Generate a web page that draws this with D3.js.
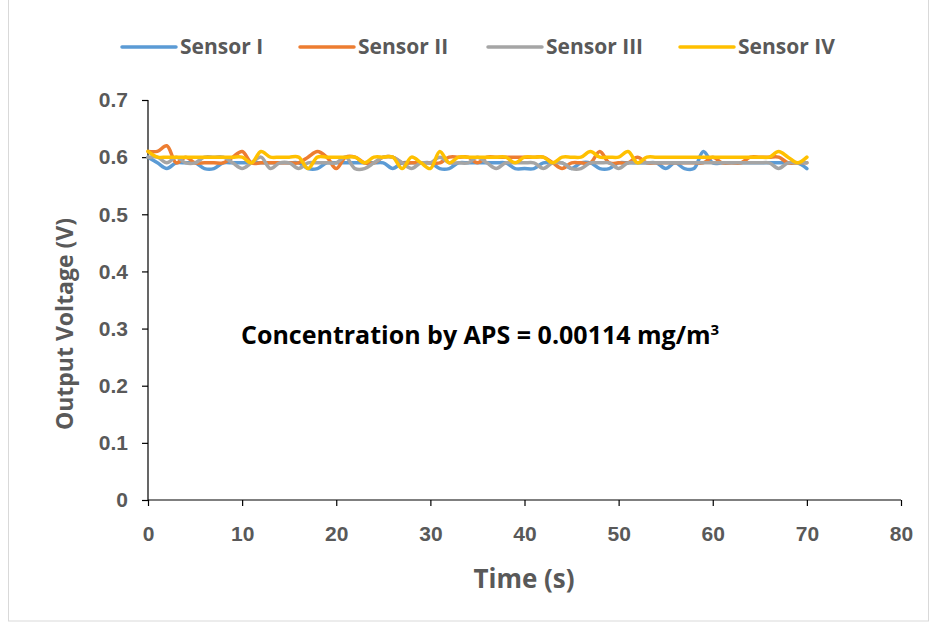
<!DOCTYPE html>
<html>
<head>
<meta charset="utf-8">
<script src="https://cdn.jsdelivr.net/npm/d3@7"></script>
<style>
  body { margin: 0; background: #fff; }
  svg { display: block; font-family: "Open Sans", Lato, sans-serif; font-weight: bold; }
</style>
</head>
<body>
<div id="app"></div>
<script>
const seriesNames = ['Sensor I', 'Sensor II', 'Sensor III', 'Sensor IV'];
const seriesColors = ['#5B9BD5', '#ED7D31', '#A5A5A5', '#FFC000'];

const time = d3.range(0, 71);

const sensor1 = [
  0.60, 0.59, 0.58, 0.59, 0.59, 0.59, 0.58, 0.58, 0.59, 0.59, 0.59,
  0.59, 0.59, 0.59, 0.59, 0.59, 0.59, 0.58, 0.58, 0.59, 0.59,
  0.59, 0.59, 0.59, 0.59, 0.59, 0.58, 0.59, 0.59, 0.59, 0.59,
  0.58, 0.58, 0.59, 0.59, 0.59, 0.59, 0.59, 0.59, 0.58, 0.58,
  0.58, 0.59, 0.59, 0.59, 0.58, 0.59, 0.59, 0.58, 0.58, 0.59,
  0.59, 0.59, 0.59, 0.59, 0.58, 0.59, 0.58, 0.58, 0.61, 0.59,
  0.59, 0.59, 0.59, 0.59, 0.59, 0.59, 0.59, 0.59, 0.59, 0.58
];
const sensor2 = [
  0.61, 0.61, 0.62, 0.59, 0.60, 0.59, 0.59, 0.59, 0.59, 0.60, 0.61,
  0.59, 0.59, 0.59, 0.59, 0.59, 0.59, 0.60, 0.61, 0.60, 0.58,
  0.60, 0.60, 0.59, 0.59, 0.60, 0.60, 0.59, 0.59, 0.59, 0.59,
  0.59, 0.60, 0.60, 0.60, 0.59, 0.60, 0.60, 0.60, 0.60, 0.60,
  0.60, 0.60, 0.59, 0.58, 0.59, 0.59, 0.59, 0.61, 0.59, 0.59,
  0.59, 0.60, 0.59, 0.59, 0.59, 0.59, 0.59, 0.59, 0.59, 0.60,
  0.59, 0.59, 0.59, 0.60, 0.60, 0.60, 0.60, 0.59, 0.59, 0.59
];
const sensor3 = [
  0.60, 0.60, 0.59, 0.60, 0.59, 0.59, 0.60, 0.60, 0.60, 0.59, 0.58,
  0.59, 0.60, 0.58, 0.59, 0.59, 0.58, 0.59, 0.59, 0.59, 0.59,
  0.60, 0.58, 0.58, 0.59, 0.60, 0.60, 0.59, 0.58, 0.59, 0.59,
  0.60, 0.59, 0.59, 0.59, 0.60, 0.59, 0.58, 0.59, 0.59, 0.59,
  0.59, 0.58, 0.59, 0.59, 0.58, 0.58, 0.59, 0.59, 0.59, 0.58,
  0.59, 0.59, 0.59, 0.59, 0.59, 0.59, 0.59, 0.59, 0.59, 0.59,
  0.59, 0.59, 0.59, 0.59, 0.59, 0.59, 0.58, 0.59, 0.59, 0.59
];
const sensor4 = [
  0.61, 0.60, 0.60, 0.60, 0.60, 0.60, 0.60, 0.60, 0.60, 0.60, 0.60,
  0.59, 0.61, 0.60, 0.60, 0.60, 0.60, 0.58, 0.60, 0.60, 0.60,
  0.60, 0.60, 0.59, 0.60, 0.60, 0.60, 0.58, 0.60, 0.59, 0.58,
  0.61, 0.59, 0.60, 0.60, 0.60, 0.60, 0.60, 0.60, 0.59, 0.60,
  0.60, 0.60, 0.59, 0.60, 0.60, 0.60, 0.61, 0.60, 0.60, 0.60,
  0.61, 0.59, 0.60, 0.60, 0.60, 0.60, 0.60, 0.60, 0.60, 0.60,
  0.60, 0.60, 0.60, 0.60, 0.60, 0.60, 0.61, 0.60, 0.59, 0.60
];
const seriesValues = [sensor1, sensor2, sensor3, sensor4];

const xTicks = [0, 10, 20, 30, 40, 50, 60, 70, 80];
const yTicks = [0, 0.1, 0.2, 0.3, 0.4, 0.5, 0.6, 0.7];

const width = 930;
const height = 625;
const margin = { top: 100, right: 29, bottom: 125, left: 148 };
const textColor = '#595959';

const svg = d3.select('#app').append('svg')
  .attr('width', width)
  .attr('height', height);

// chart border
svg.append('rect')
  .attr('x', 8.5).attr('y', -1)
  .attr('width', 920).attr('height', 622)
  .attr('fill', 'none')
  .attr('stroke', '#d9d9d9');

const x = d3.scaleLinear().domain([0, 80]).range([margin.left, width - margin.right]);
const y = d3.scaleLinear().domain([0, 0.7]).range([height - margin.bottom, margin.top]);

const xAxis = svg.append('g')
  .attr('transform', `translate(0,${y(0)})`)
  .call(d3.axisBottom(x).tickValues(xTicks).tickSize(6).tickPadding(20).tickFormat(d3.format('d')));

const yAxis = svg.append('g')
  .attr('transform', `translate(${x(0)},0)`)
  .call(d3.axisLeft(y).tickValues(yTicks).tickSize(6).tickPadding(14).tickFormat(d => d === 0 ? '0' : d3.format('.1f')(d)));

[xAxis, yAxis].forEach(axis => {
  axis.select('.domain').attr('stroke', '#000').attr('stroke-width', 1.2);
  axis.selectAll('.tick line').attr('stroke', '#000').attr('stroke-width', 1.2);
  axis.selectAll('.tick text')
    .attr('fill', textColor)
    .style('font-size', '21px')
    .style('font-weight', 'bold');
});
// Excel-style: no outer tick caps
xAxis.select('.domain').attr('d', `M${x(0)},0H${x(80)}`);
yAxis.select('.domain').attr('d', `M0,${y(0.7)}V${y(0)}`);

const line = d3.line()
  .x((d, i) => x(time[i]))
  .y(d => y(d))
  .curve(d3.curveCatmullRom.alpha(0.5));

svg.append('g')
  .selectAll('path')
  .data(seriesValues)
  .enter().append('path')
  .attr('d', line)
  .attr('fill', 'none')
  .attr('stroke', (d, i) => seriesColors[i])
  .attr('stroke-width', 3.5)
  .attr('stroke-linejoin', 'round')
  .attr('stroke-linecap', 'round');

// legend
const legendX = [122, 300, 488, 680];
const legend = svg.append('g')
  .selectAll('g')
  .data(seriesNames)
  .enter().append('g')
  .attr('transform', (d, i) => `translate(${legendX[i]},47)`);

legend.append('line')
  .attr('x1', 0).attr('x2', 54)
  .attr('stroke', (d, i) => seriesColors[i])
  .attr('stroke-width', 3.5)
  .attr('stroke-linecap', 'round');

legend.append('text')
  .attr('x', 58)
  .attr('dy', '0.35em')
  .attr('fill', textColor)
  .style('font-size', '21px')
  .text(d => d);

// axis titles
svg.append('text')
  .attr('x', 524)
  .attr('y', 588)
  .attr('text-anchor', 'middle')
  .attr('fill', textColor)
  .style('font-size', '26px')
  .text('Time (s)');

svg.append('text')
  .attr('transform', `translate(73,324) rotate(-90)`)
  .attr('text-anchor', 'middle')
  .attr('fill', textColor)
  .style('font-size', '23px')
  .text('Output Voltage (V)');

// annotation
const note = svg.append('text')
  .attr('x', 241)
  .attr('y', 344)
  .attr('fill', '#000')
  .style('font-size', '25px')
  .text('Concentration by APS = 0.00114 mg/m');
note.append('tspan')
  .attr('dy', -9)
  .style('font-size', '15px')
  .text('3');
</script>
</body>
</html>
